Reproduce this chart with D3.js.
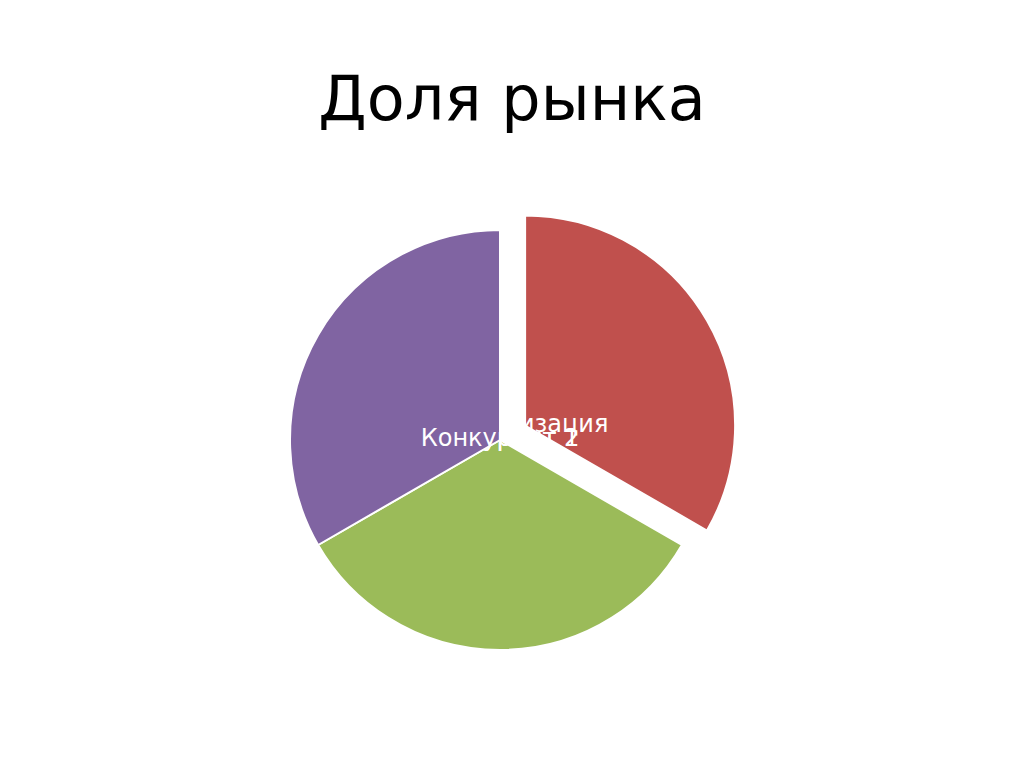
<!DOCTYPE html>
<html>
<head>
<meta charset="utf-8">
<script src="https://cdn.jsdelivr.net/npm/d3@7"></script>
<style>
  html, body { margin: 0; padding: 0; background: #ffffff; }
  svg { display: block; }
</style>
</head>
<body>
<div id="chart"></div>
<script>
// Données du graphique
const categories = ["Организация", "Конкурент 1", "Конкурент 2"];
const values = [33.3, 33.3, 33.3];
const colors = ["#C0504D", "#9BBB59", "#8064A2"];
const exploded = [true, false, false];
const title = "Доля рынка";

const width = 1024, height = 768;
const cx = 500, cy = 440, radius = 210, explode = 29;

const svg = d3.select("#chart").append("svg")
    .attr("width", width)
    .attr("height", height);

// Titre
svg.append("text")
    .attr("x", 512)
    .attr("y", 120)
    .attr("text-anchor", "middle")
    .style("font-family", "DejaVu Sans")
    .style("font-size", "62px")
    .style("fill", "#000")
    .text(title);

const pie = d3.pie().sort(null).startAngle(0).endAngle(2 * Math.PI);
const arc = d3.arc().innerRadius(0).outerRadius(radius);

const slices = pie(values).map((d, i) => {
    const mid = (d.startAngle + d.endAngle) / 2;
    const off = exploded[i] ? explode : 0;
    return { ...d, i, dx: Math.sin(mid) * off, dy: -Math.cos(mid) * off };
});

const g = svg.append("g").attr("transform", `translate(${cx},${cy})`);

// Chaque secteur est suivi de son étiquette : le secteur suivant la recouvre en partie
const groups = g.selectAll("g.slice")
    .data(slices)
    .join("g")
    .attr("class", "slice")
    .attr("transform", d => `translate(${d.dx},${d.dy})`);

groups.append("path")
    .attr("d", arc)
    .attr("fill", d => colors[d.i])
    .attr("stroke", "#fff")
    .attr("stroke-width", 2)
    .attr("stroke-linejoin", "round");

groups.append("text")
    .attr("x", 0)
    .attr("y", 6)
    .attr("text-anchor", "middle")
    .style("font-family", "DejaVu Sans")
    .style("font-size", "24px")
    .style("fill", "#fff")
    .text(d => categories[d.i]);
</script>
</body>
</html>
